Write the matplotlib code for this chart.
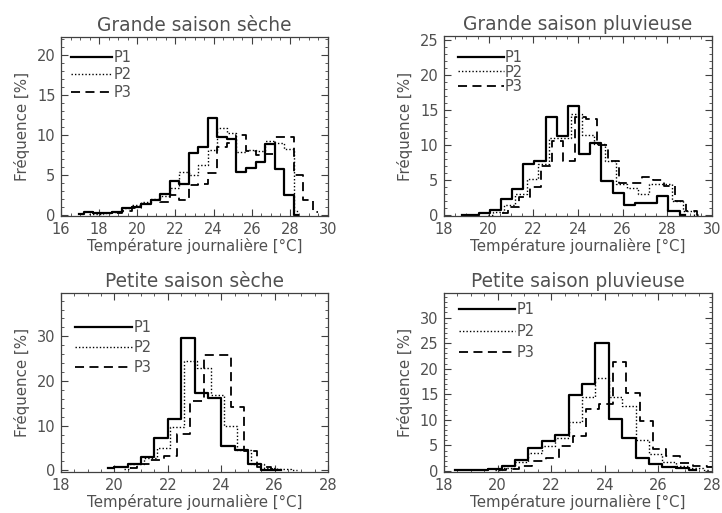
import numpy as np
import matplotlib.pyplot as plt
from matplotlib.ticker import MultipleLocator

# Grande saison sèche
gss_p1_x = np.arange(16.95, 28.46, 0.5)
gss_p1 = [0.1, 0.4, 0.2, 0.2, 0.4, 0.9, 1.0, 1.3, 1.9, 2.6, 4.3, 3.9,
          7.8, 8.5, 12.2, 9.8, 9.5, 5.4, 5.9, 6.6, 8.9, 5.8, 2.5, 0.0]
gss_p2_x = np.arange(17.45, 28.46, 0.5)
gss_p2 = [0.05, 0.1, 0.2, 0.4, 0.8, 1.2, 1.6, 2.0, 2.3, 3.4, 5.4, 5.0,
          6.3, 8.1, 10.9, 10.2, 7.9, 8.1, 8.0, 9.3, 9.0, 8.2, 0.5]
gss_p3_x = np.arange(18.95, 29.46, 0.5)
gss_p3 = [0.2, 0.5, 0.9, 1.3, 1.8, 1.6, 2.5, 1.9, 3.8, 3.9, 5.2, 8.5,
          9.0, 10.0, 8.0, 7.5, 7.6, 9.7, 9.7, 5.0, 1.9, 0.3]

# Grande saison pluvieuse
gsp_p1_x = np.arange(18.8, 28.81, 0.5)
gsp_p1 = [0.1, 0.1, 0.3, 0.8, 2.3, 3.8, 7.3, 7.75, 14.0, 11.3, 15.6,
          8.7, 10.3, 4.9, 3.2, 1.5, 1.8, 1.7, 2.7, 0.6, 0.1]
gsp_p2_x = np.arange(19.95, 29.46, 0.5)
gsp_p2 = [0.1, 0.5, 1.5, 3.0, 5.2, 7.3, 11.1, 11.0, 14.5, 11.5, 10.2,
          7.8, 4.5, 3.9, 3.0, 4.4, 4.4, 2.0, 0.6, 0.1]
gsp_p3_x = np.arange(20.6, 29.61, 0.5)
gsp_p3 = [0.3, 1.2, 2.6, 4.0, 7.0, 10.6, 7.75, 14.0, 13.8, 10.1, 7.75,
          4.6, 4.6, 5.4, 5.1, 4.2, 2.0, 0.6, 0.1]

# Petite saison sèche
pss_p1_x = np.arange(19.75, 26.26, 0.5)
pss_p1 = [0.6, 0.7, 1.5, 3.0, 7.2, 11.4, 29.6, 17.2, 16.2, 5.4, 4.5,
          1.3, 0.1, 0.05]
pss_p2_x = np.arange(20.35, 26.86, 0.5)
pss_p2 = [0.3, 1.5, 2.8, 5.0, 9.6, 24.5, 23.0, 16.8, 9.8, 4.5, 1.5,
          0.5, 0.3, 0.1]
pss_p3_x = np.arange(20.6, 26.11, 0.5)
pss_p3 = [0.4, 1.5, 2.3, 3.2, 8.1, 15.6, 25.8, 25.8, 14.2, 4.3, 0.8, 0.2]

# Petite saison pluvieuse
psp_p1_x = np.arange(18.4, 27.41, 0.5)
psp_p1 = [0.1, 0.2, 0.2, 0.3, 1.0, 2.2, 4.4, 5.8, 7.1, 14.8, 17.1,
          25.0, 10.1, 6.5, 2.6, 1.3, 0.8, 0.5, 0.1]
psp_p2_x = np.arange(19.9, 27.91, 0.5)
psp_p2 = [0.1, 0.6, 1.8, 3.5, 4.9, 6.5, 9.5, 14.4, 18.2, 14.4, 12.7,
          6.0, 3.3, 1.8, 1.0, 0.6, 0.2]
psp_p3_x = np.arange(20.05, 28.06, 0.5)
psp_p3 = [0.2, 0.3, 1.0, 2.0, 2.6, 4.8, 6.8, 12.1, 13.0, 21.3, 15.2,
          9.8, 4.3, 3.0, 1.5, 1.0, 0.8]

panels = [
    ("Grande saison sèche", (gss_p1_x, gss_p1), (gss_p2_x, gss_p2), (gss_p3_x, gss_p3),
     (16, 30), (-0.15, 22.3), 5, 1, [61, 37, 328, 216], 2.8, 0.15, (3, 6)),
    ("Grande saison pluvieuse", (gsp_p1_x, gsp_p1), (gsp_p2_x, gsp_p2), (gsp_p3_x, gsp_p3),
     (18, 30), (-0.1, 25.6), 5, 1, [444, 36, 712, 216], 3.1, -0.05, (7, 7)),
    ("Petite saison sèche", (pss_p1_x, pss_p1), (pss_p2_x, pss_p2), (pss_p3_x, pss_p3),
     (18, 28), (-0.4, 39.7), 10, 2, [61, 293, 328, 472], 3.9, 0.32, (7, 20)),
    ("Petite saison pluvieuse", (psp_p1_x, psp_p1), (psp_p2_x, psp_p2), (psp_p3_x, psp_p3),
     (18, 28), (-0.2, 34.8), 5, 1, [444, 293, 712, 472], 3.8, 0.45, (8, 2)),
]

W, H = 722, 513
txt = '#505050'
plt.rcParams['font.family'] = 'DejaVu Sans'
fig = plt.figure(figsize=(W / 100, H / 100), dpi=100)

for title, s1, s2, s3, xl, yl, ymaj, ymin, box, hlen, lsp, shift in panels:
    l, t, r, b = box
    ax = fig.add_axes([l / W, (H - b) / H, (r - l) / W, (b - t) / H])
    ax.step(s1[0], s1[1], where='mid', color='black', lw=1.6, label='P1')
    ax.step(s2[0], s2[1], where='mid', color='black', lw=1.0, ls=(0, (1, 1.5)), label='P2')
    ax.step(s3[0], s3[1], where='mid', color='black', lw=1.3, ls=(0, (5, 3)), label='P3')
    ax.set_xlim(*xl)
    ax.set_ylim(*yl)
    ax.xaxis.set_major_locator(MultipleLocator(2))
    ax.xaxis.set_minor_locator(MultipleLocator(0.5))
    ax.yaxis.set_major_locator(MultipleLocator(ymaj))
    ax.yaxis.set_minor_locator(MultipleLocator(ymin))
    ax.tick_params(which='both', direction='in', top=True, right=True,
                   colors='#404040', labelcolor=txt, labelsize=10.5)
    ax.tick_params(which='major', length=5, width=0.8, pad=4)
    ax.tick_params(which='minor', length=2.5, width=0.6)
    for sp in ax.spines.values():
        sp.set_color('#404040')
        sp.set_linewidth(0.9)
    ax.set_title(title, fontsize=13.4, color=txt, pad=4)
    ax.set_xlabel('Température journalière [°C]', fontsize=10.8, color=txt, labelpad=1)
    ax.set_ylabel('Fréquence [%]', fontsize=10.8, color=txt, labelpad=5)
    dx = shift[0] / (r - l)
    dy = shift[1] / (b - t)
    leg = ax.legend(loc='upper left', bbox_to_anchor=(dx, 1 - dy), frameon=False,
                    fontsize=10.5, handlelength=hlen, handletextpad=0.1,
                    labelspacing=lsp, borderaxespad=0.3, borderpad=0.2)
    for tx in leg.get_texts():
        tx.set_color(txt)

plt.savefig('out.png', dpi=100)
